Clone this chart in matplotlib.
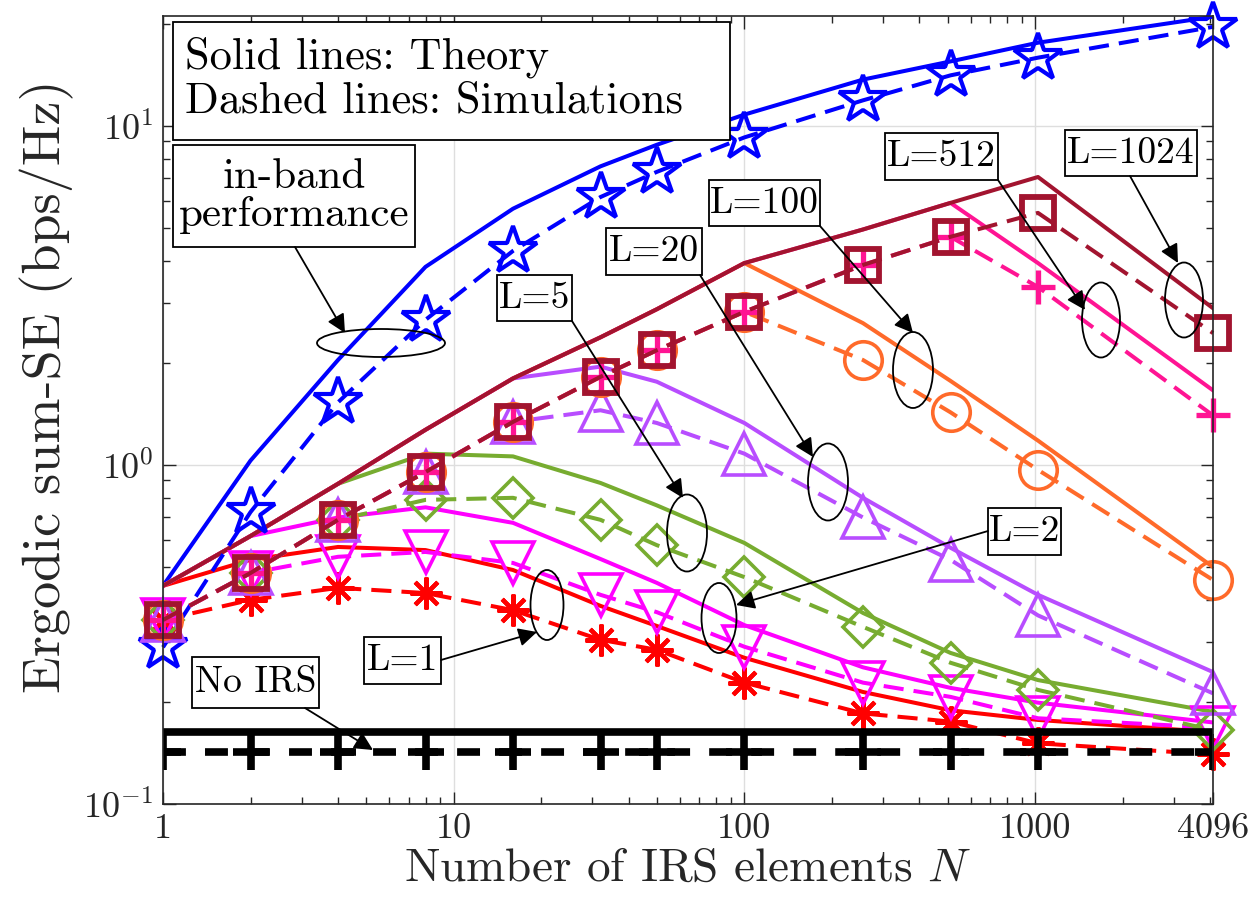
import numpy as np
import matplotlib.pyplot as plt
from matplotlib.patches import Ellipse, Rectangle
from matplotlib.ticker import LogLocator, NullFormatter

plt.rcParams['font.family'] = 'cmr10'
plt.rcParams['mathtext.fontset'] = 'cm'
plt.rcParams['axes.formatter.use_mathtext'] = True
plt.rcParams['axes.unicode_minus'] = False

# number of IRS elements
N = [1, 2, 4, 8, 16, 32, 50, 100, 256, 512, 1024, 4096]

# in-band performance
inband_th = [0.44, 1.03, 2.04, 3.84, 5.7, 7.6, 8.8, 10.8, 13.7, 15.5, 17.6, 21.0]
inband_sim = [0.29, 0.726, 1.53, 2.68, 4.28, 6.17, 7.32, 9.25, 11.9, 14.1, 15.9, 19.6]
# L=1
L1_th = [0.44, 0.525, 0.573, 0.561, 0.49, 0.384, 0.335, 0.27, 0.214, 0.189, 0.177, 0.163]
L1_sim = [0.349, 0.40, 0.434, 0.419, 0.373, 0.305, 0.285, 0.228, 0.185, 0.175, 0.151, 0.14]
# L=2
L2_th = [0.44, 0.617, 0.70, 0.75, 0.675, 0.528, 0.449, 0.337, 0.253, 0.22, 0.199, 0.174]
L2_sim = [0.349, 0.48, 0.536, 0.554, 0.514, 0.414, 0.368, 0.291, 0.228, 0.207, 0.179, 0.168]
# L=5
L5_th = [0.44, 0.617, 0.88, 1.08, 1.06, 0.885, 0.76, 0.589, 0.366, 0.279, 0.232, 0.187]
L5_sim = [0.349, 0.48, 0.689, 0.789, 0.80, 0.689, 0.58, 0.467, 0.333, 0.261, 0.217, 0.165]
# L=20
L20_th = [0.44, 0.617, 0.88, 1.27, 1.8, 1.95, 1.76, 1.33, 0.80, 0.57, 0.414, 0.245]
L20_sim = [0.349, 0.48, 0.689, 0.953, 1.34, 1.45, 1.33, 1.08, 0.70, 0.525, 0.36, 0.212]
# L=100
L100_th = [0.44, 0.617, 0.88, 1.27, 1.8, 2.38, 2.88, 3.94, 2.62, 1.77, 1.18, 0.50]
L100_sim = [0.349, 0.48, 0.689, 0.953, 1.34, 1.82, 2.18, 2.83, 2.04, 1.43, 0.967, 0.458]
# L=512
L512_th = [0.44, 0.617, 0.88, 1.27, 1.8, 2.38, 2.88, 3.94, 4.95, 5.93, 3.94, 1.66]
L512_sim = [0.349, 0.48, 0.689, 0.953, 1.34, 1.82, 2.18, 2.83, 3.89, 4.71, 3.35, 1.40]
# L=1024
L1024_th = [0.44, 0.617, 0.88, 1.27, 1.8, 2.38, 2.88, 3.94, 4.95, 5.93, 7.07, 2.9]
L1024_sim = [0.349, 0.48, 0.689, 0.953, 1.34, 1.82, 2.18, 2.83, 3.89, 4.71, 5.54, 2.45]
# no IRS
noirs_th = [0.163, 0.163, 0.163, 0.163, 0.163, 0.163, 0.163, 0.163, 0.163, 0.163, 0.163, 0.163]
noirs_sim = [0.142, 0.142, 0.142, 0.142, 0.142, 0.142, 0.142, 0.142, 0.142, 0.142, 0.142, 0.142]

blue = '#0000FF'
red = '#FF0000'
magenta = '#FF00FF'
green = '#77AC30'
purple = '#B84DFF'
orange = '#FF6A2A'
pink = '#FF1493'
maroon = '#A2142F'

series = [
    (inband_th, inband_sim, blue, '*', 36, 3.0),
    (L1_th, L1_sim, red, (8, 2, 0), 23, 3.0),
    (L2_th, L2_sim, magenta, 'v', 30, 2.6),
    (L5_th, L5_sim, green, 'D', 20, 2.6),
    (L20_th, L20_sim, purple, '^', 30, 2.6),
    (L100_th, L100_sim, orange, 'o', 27, 2.6),
    (L512_th, L512_sim, pink, '+', 24, 3.8),
    (L1024_th, L1024_sim, maroon, 's', 23, 4.2),
]

fig = plt.figure(figsize=(12.6, 9.1), dpi=100)
ax = fig.add_axes([163 / 1260, 1 - 804 / 910, 1050 / 1260, 788 / 910])

for th, sim, c, m, ms, mew in series:
    ax.plot(N, th, '-', color=c, lw=2.9)
for th, sim, c, m, ms, mew in series:
    ax.plot(N, sim, '--', color=c, lw=2.9, dashes=(5, 2.5), marker=m, ms=ms,
            mfc='none', mew=mew, clip_on=False)
ax.plot(N, noirs_th, '-', color='k', lw=5.5)
ax.plot(N, noirs_sim, '--', color='k', lw=5.5, dashes=(3, 2.5), marker='+',
        ms=26, mew=5.5)

ax.set_xscale('log')
ax.set_yscale('log')
ax.set_xlim(1, 4096)
ax.set_ylim(0.1, 21.1)
ax.set_xticks([1, 10, 100, 1000, 4096])
ax.set_xticklabels(['1', '10', '100', '1000', '4096'])
ax.xaxis.set_minor_locator(LogLocator(base=10, subs=np.arange(2, 10)))
ax.xaxis.set_minor_formatter(NullFormatter())
ax.grid(True, which='major', color='#dedede', lw=1)
ax.set_axisbelow(True)
ax.tick_params(which='both', direction='in', top=True, right=True,
               colors='#262626', labelcolor='#262626')
ax.tick_params(which='major', length=9, width=1, labelsize=26, pad=7)
ax.tick_params(which='minor', length=5, width=1)
for s in ax.spines.values():
    s.set_color('#262626')
    s.set_linewidth(1.2)

ax.set_xlabel('Number of IRS elements $N$', fontsize=34, color='#262626', labelpad=2)
ax.set_ylabel('Ergodic sum-SE (bps/Hz)', fontsize=39, color='#262626', labelpad=4)
ax.yaxis.set_label_coords(-0.085, 0.53)


def frac(px, py):
    return ((px - 163) / 1050, (804 - py) / 788)


# text boxes: label, x0, y0, x1, y1 (pixels), arrow start, arrow tip, font size
boxes = [
    ('in-band\nperformance', 173, 145, 415, 247, (295, 247), (345, 333), 31),
    ('No IRS', 192, 657, 319, 708, (305, 708), (373, 750), 27),
    ('L=1', 364, 637, 441, 684, (441, 660), (537, 632), 27),
    ('L=2', 988, 508, 1061, 555, (988, 531), (736, 605), 27),
    ('L=5', 497, 275, 572, 321, (572, 321), (683, 498), 27),
    ('L=20', 606, 228, 702, 275, (700, 275), (813, 457), 27),
    ('L=100', 709, 180, 820, 226, (820, 226), (913, 333), 27),
    ('L=512', 885, 133, 998, 180, (998, 180), (1085, 310), 27),
    ('L=1024', 1065, 130, 1197, 176, (1130, 176), (1178, 263), 27),
]
for label, x0, y0, x1, y1, a0, a1, fs in boxes:
    ax.add_patch(Rectangle(frac(x0, y1), (x1 - x0) / 1050, (y1 - y0) / 788,
                           transform=ax.transAxes, fc='white', ec='k', lw=1.3,
                           zorder=6, clip_on=False))
    cx, cy = frac((x0 + x1) / 2, (y0 + y1) / 2)
    ax.text(cx, cy, label, transform=ax.transAxes, ha='center', va='center',
            fontsize=fs, linespacing=1.0, zorder=7)
    ax.annotate('', xy=frac(*a1), xytext=frac(*a0), xycoords='axes fraction',
                arrowprops=dict(arrowstyle='-|>', color='k', lw=1.3,
                                mutation_scale=28, shrinkA=0, shrinkB=0),
                zorder=7)

# legend-like box
ax.add_patch(Rectangle(frac(173, 140), (730 - 173) / 1050, (140 - 22) / 788,
                       transform=ax.transAxes, fc='white', ec='k', lw=1.3, zorder=6))
ax.text(*frac(185, 79), 'Solid lines: Theory\nDashed lines: Simulations',
        transform=ax.transAxes, ha='left', va='center', fontsize=32,
        linespacing=1.08, zorder=7)

# ellipses: center x, center y, width, height (pixels)
ellipses = [
    (381, 343, 128, 28),
    (547, 605, 33, 70),
    (719, 618, 35, 70),
    (687, 533, 40, 77),
    (828, 482, 40, 77),
    (913, 370, 40, 76),
    (1101, 320, 38, 75),
    (1184, 300, 38, 75),
]
for ex, ey, ew, eh in ellipses:
    ax.add_patch(Ellipse(frac(ex, ey), ew / 1050, eh / 788, transform=ax.transAxes,
                         fill=False, ec='k', lw=1.3, zorder=7))

fig.savefig('out.png', dpi=100)
